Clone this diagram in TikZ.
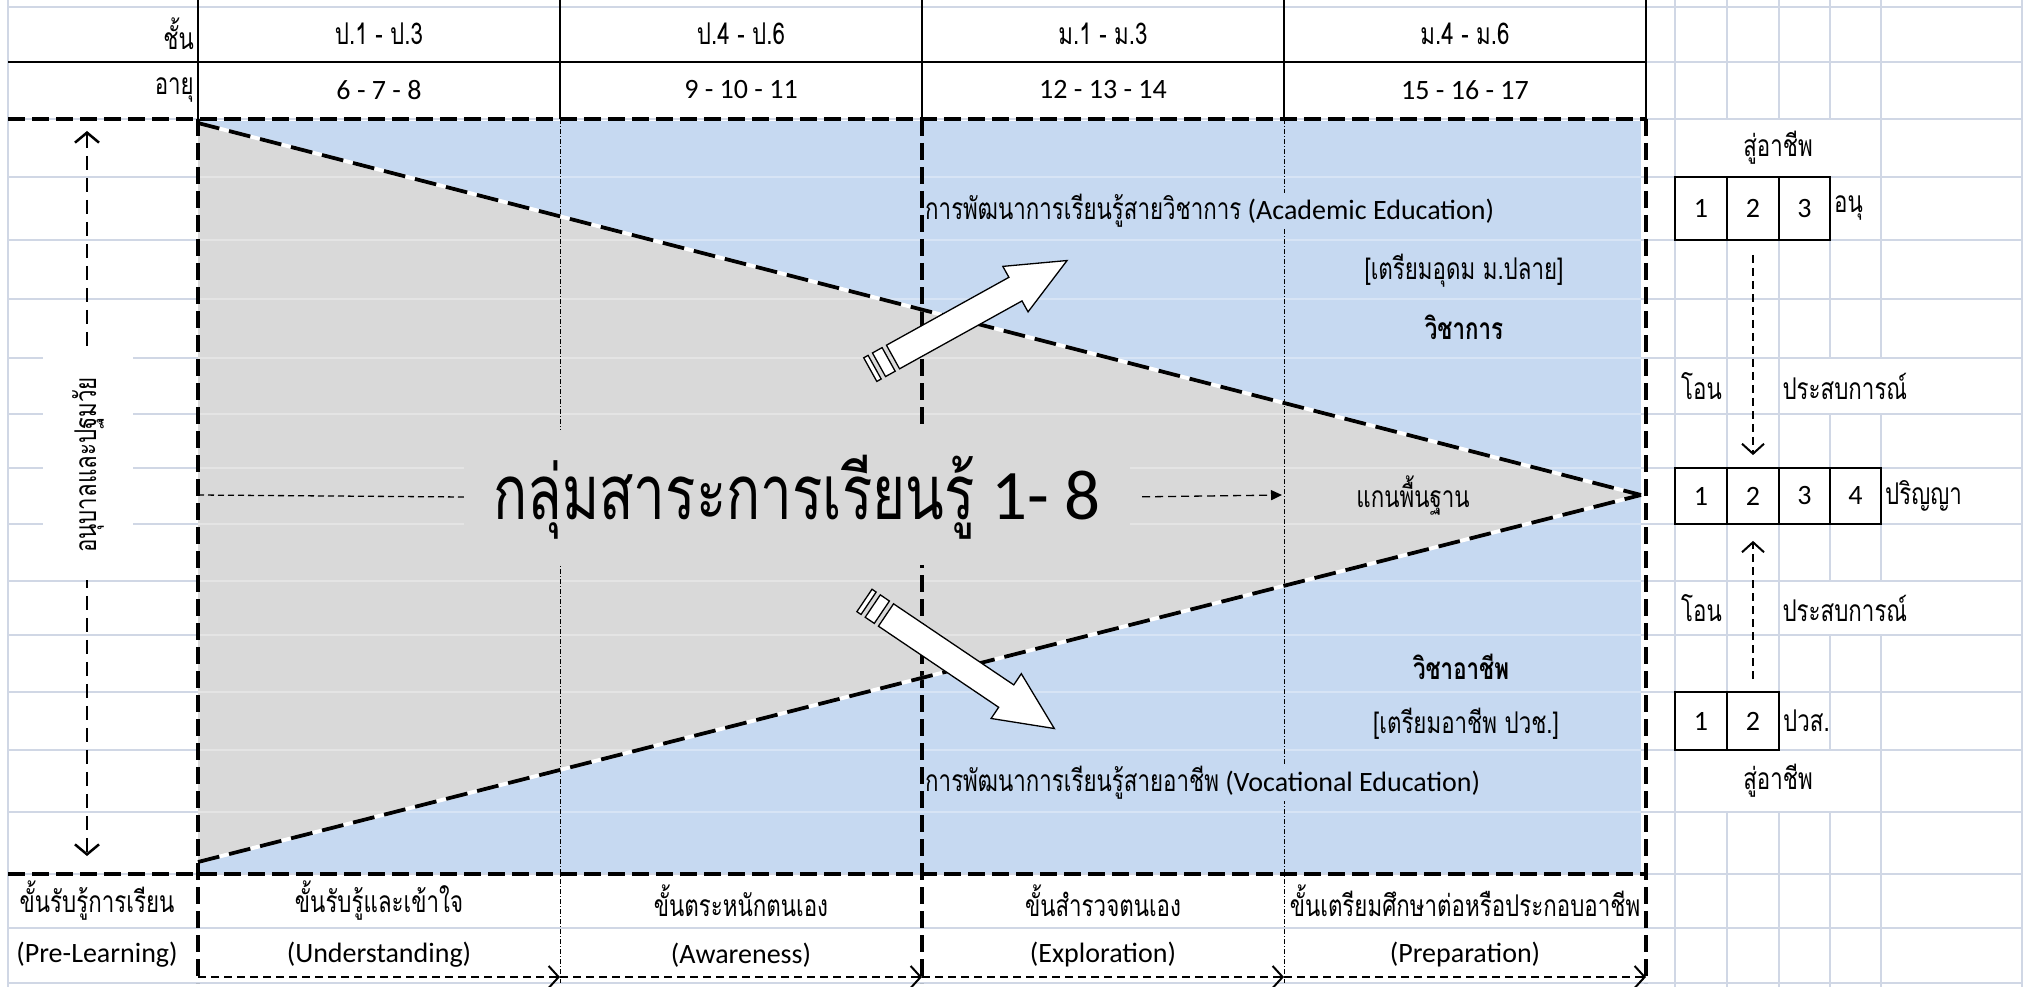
\documentclass[tikz,border=0pt]{standalone}
\usepackage{fontspec}
\setmainfont{Carlito}
\newfontfamily\thaifont[Script=Thai,Scale=1.07,FakeStretch=0.745]{Loma}
\usepackage{tikz}
\usetikzlibrary{arrows.meta}

\definecolor{gridc}{HTML}{D0D7E5}
\definecolor{bluefill}{HTML}{C6D9F1}
\definecolor{grayfill}{HTML}{D9D9D9}
\newcommand{\tht}[1]{{\thaifont #1}}

\begin{document}
\begin{tikzpicture}[x=1pt,y=-1pt,
	every node/.style={font=\fontsize{28}{32}\selectfont,inner sep=2pt},
	gridline/.style={gridc,line width=1.3pt},
	thickdash/.style={line width=3.5pt,dash pattern=on 17pt off 7pt},
	thindash/.style={line width=1pt,dash pattern=on 5pt off 2pt on 1pt off 2pt},
	flow/.style={line width=1.8pt,dash pattern=on 8pt off 5pt,-{Straight Barb[length=10pt,width=22pt,line width=2pt]}},
	cell/.style={draw,line width=1.8pt,minimum width=51.5pt,minimum height=57pt,inner sep=0pt},
	mergecell/.style={fill=white,inner sep=0pt}]
	\fill[white] (0,0) rectangle (2027,987);
	\useasboundingbox (0,0) rectangle (2027,987);

	% sheet grid
	\foreach \y in {7,62,119,177,240,299,358,414,468,524,581,635,692,750,812,874,928,983}
		\draw[gridline] (8,\y) -- (2022,\y);
	\foreach \x in {8,1675,1727,1779,1830,1881,2022}
		\draw[gridline] (\x,0) -- (\x,987);

	% coloured areas
	\coordinate (tl) at (198,123);
	\coordinate (apex) at (1641,495);
	\coordinate (bl) at (198,862);
	\fill[bluefill] (198,121) rectangle (1641,873);
	\fill[grayfill] (tl) -- (apex) -- (bl) -- cycle;
	\foreach \y in {177,240,299,358,414,468,524,581,635,692,750,812}
		\draw[white,opacity=0.3,line width=1.3pt] (198,\y) -- (1641,\y);

	% column dividers
	\draw[thindash] (560,119) -- (560,983);
	\draw[thickdash] (922,119) -- (922,983);
	\draw[thindash] (1284,119) -- (1284,983);

	% header
	\draw[line width=2pt] (8,62) -- (1646,62);
	\draw[line width=2pt] (198,0) -- (198,119);
	\draw[line width=2pt] (560,0) -- (560,119);
	\draw[line width=2pt] (922,0) -- (922,119);
	\draw[line width=2pt] (1284,0) -- (1284,119);
	\draw[line width=2pt] (1646,0) -- (1646,119);
	\node[anchor=east] (grade) at (196,34) {\tht{ชั้น}};
	\node[anchor=east] (age) at (196,90) {\tht{อายุ}};
	\node (grade1) at (379,34) {\tht{ป.1 - ป.3}};
	\node (grade2) at (741,34) {\tht{ป.4 - ป.6}};
	\node (grade3) at (1103,34) {\tht{ม.1 - ม.3}};
	\node (grade4) at (1465,34) {\tht{ม.4 - ม.6}};
	\node (age1) at (379,90) {6 - 7 - 8};
	\node (age2) at (741,90) {9 - 10 - 11};
	\node (age3) at (1103,90) {12 - 13 - 14};
	\node (age4) at (1465,90) {15 - 16 - 17};

	% main labels
	\node[fill=grayfill,minimum width=666pt,minimum height=135pt] (title) at (797,497)
		{\fontsize{71}{76}\selectfont\tht{กลุ่มสาระการเรียนรู้} 1- 8};
	\node (core) at (1413,496) {\tht{แกนพื้นฐาน}};
	\coordinate (c4) at (1282,495);
	\draw[line width=1.3pt,dash pattern=on 6pt off 4pt] (198,495) -- (title.west);
	\draw[line width=1.3pt,dash pattern=on 8pt off 5pt,-{Triangle[length=11pt,width=10pt]},shorten <=12pt] (title.east) -- (c4);

	\node[fill=bluefill,inner sep=1pt,anchor=west] (acad) at (924,211) {\tht{การพัฒนาการเรียนรู้สายวิชาการ} (Academic Education)};
	\node (acadprep) at (1464,271) {\tht{[เตรียมอุดม ม.ปลาย]}};
	\node (acadname) at (1464,327) {\tht{\bfseries วิชาการ}};
	\node (vocname) at (1461,667) {\tht{\bfseries วิชาอาชีพ}};
	\node (vocprep) at (1466,724) {\tht{[เตรียมอาชีพ ปวช.]}};
	\node[fill=bluefill,inner sep=1pt,anchor=west] (voc) at (924,783) {\tht{การพัฒนาการเรียนรู้สายอาชีพ} (Vocational Education)};

	% triangle edges
	\draw[white,line width=3.8pt] (tl) -- (apex) -- (bl);
	\draw[line width=3.8pt,dash pattern=on 22pt off 10pt] (tl) -- (apex);
	\draw[line width=3.8pt,dash pattern=on 22pt off 10pt] (bl) -- (apex);

	% borders
	\draw[thickdash] (8,119) -- (1646,119);
	\draw[thickdash] (8,874) -- (1646,874);
	\draw[thickdash] (198,119) -- (198,983);
	\draw[thickdash] (1646,119) -- (1646,983);

	% striped arrows
	\begin{scope}[shift={(893,357)},rotate=29]
		\draw[fill=white,line width=1.3pt] (0,-13.5) -- (140,-13.5) -- (140,-26) -- (199,0) -- (140,26) -- (140,13.5) -- (0,13.5) -- cycle;
		\draw[fill=white,line width=1.3pt] (-16,-13.5) rectangle (-5,13.5);
		\draw[fill=white,line width=1.3pt] (-26,-13.5) rectangle (-21,13.5);
	\end{scope}
	\begin{scope}[shift={(886,615)},rotate=-34]
		\draw[fill=white,line width=1.3pt] (0,-13.5) -- (145,-13.5) -- (145,-27) -- (203,0) -- (145,27) -- (145,13.5) -- (0,13.5) -- cycle;
		\draw[fill=white,line width=1.3pt] (-16,-13.5) rectangle (-5,13.5);
		\draw[fill=white,line width=1.3pt] (-26,-13.5) rectangle (-21,13.5);
	\end{scope}

	% kindergarten span
	\coordinate (ktop) at (87,131);
	\coordinate (kbot) at (87,856);
	\draw[line width=2.5pt,dash pattern=on 14pt off 8pt,{Straight Barb[length=10pt,width=24pt,line width=2.5pt]}-{Straight Barb[length=10pt,width=24pt,line width=2.5pt]}] (ktop) -- (kbot);
	\node[rotate=90,fill=white,minimum width=230pt,minimum height=90pt] (kinder) at (88,465) {\tht{อนุบาลและปฐมวัย}};

	% stages
	\node (stage0) at (97,901) {\tht{ขั้นรับรู้การเรียน}};
	\node (stage1) at (379,901) {\tht{ขั้นรับรู้และเข้าใจ}};
	\node (stage2) at (741,901) {\tht{ขั้นตระหนักตนเอง}};
	\node (stage3) at (1103,901) {\tht{ขั้นสำรวจตนเอง}};
	\node[inner sep=0pt] (stage4) at (1465,901) {\tht{ขั้นเตรียมศึกษาต่อหรือประกอบอาชีพ}};
	\node (eng0) at (97,955) {(Pre-Learning)};
	\node (eng1) at (379,955) {(Understanding)};
	\node (eng2) at (741,955) {(Awareness)};
	\node (eng3) at (1103,955) {(Exploration)};
	\node (eng4) at (1465,955) {(Preparation)};
	\coordinate (b0) at (198,977);
	\coordinate (b1) at (560,977);
	\coordinate (b2) at (922,977);
	\coordinate (b3) at (1284,977);
	\coordinate (b4) at (1646,977);
	\draw[flow] (b0) -- (b1);
	\draw[flow] (b1) -- (b2);
	\draw[flow] (b2) -- (b3);
	\draw[flow] (b3) -- (b4);

	% further study paths
	\node[mergecell,minimum width=204pt,minimum height=56pt] (jobtop) at (1778,148) {\tht{สู่อาชีพ}};
	\node[cell,minimum height=63pt] (anu1) at (1701,208.5) {1};
	\node[cell,minimum height=63pt] (anu2) at (1753,208.5) {2};
	\node[cell,minimum height=63pt] (anu3) at (1804.5,208.5) {3};
	\node[anchor=west] (anu) at (1832,208.5) {\tht{อนุ}};
	\node[anchor=west] (tr1) at (1679,386) {\tht{โอน}};
	\node[mergecell,text width=237pt,align=left,minimum height=54pt] (exp1) at (1901,386) {\tht{ประสบการณ์}};
	\node[cell,minimum height=56pt] (deg1) at (1701,496) {1};
	\node[cell,minimum height=56pt] (deg2) at (1753,496) {2};
	\node[cell,minimum height=56pt] (deg3) at (1804.5,496) {3};
	\node[cell,minimum height=56pt] (deg4) at (1855.5,496) {4};
	\node[anchor=west] (deg) at (1883,496) {\tht{ปริญญา}};
	\node[anchor=west] (tr2) at (1679,608) {\tht{โอน}};
	\node[mergecell,text width=237pt,align=left,minimum height=52pt] (exp2) at (1901,608) {\tht{ประสบการณ์}};
	\node[cell,minimum height=58pt] (pvs1) at (1701,721) {1};
	\node[cell,minimum height=58pt] (pvs2) at (1753,721) {2};
	\node[anchor=west] (pvs) at (1781,721) {\tht{ปวส.}};
	\node[mergecell,minimum width=204pt,minimum height=60pt] (jobbot) at (1778,781) {\tht{สู่อาชีพ}};
	\draw[flow,line width=2pt,shorten <=14pt,shorten >=12pt] (anu2.south) -- (deg2.north);
	\draw[flow,line width=2pt,shorten <=12pt,shorten >=16pt] (pvs2.north) -- (deg2.south);
\end{tikzpicture}
\end{document}
